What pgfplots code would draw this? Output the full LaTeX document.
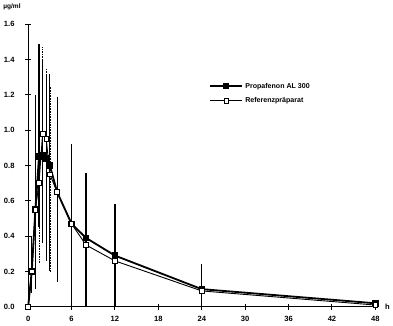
\documentclass[border=0pt]{standalone}
\usepackage{pgfplots}
\pgfplotsset{compat=1.18}
\usepackage{fontspec}
\setmainfont{Liberation Sans}
\begin{document}
\begin{tikzpicture}
\begin{axis}[
  scale only axis, width=344pt, height=280pt,
  xmin=0, xmax=48, ymin=0, ymax=1.6,
  axis lines=left, axis line style={line width=1.2pt,-},
  xtick={0,6,...,48}, ytick={0,0.2,...,1.6},
  yticklabels={0.0,0.2,0.4,0.6,0.8,1.0,1.2,1.4,1.6},
  tick align=center, major tick length=6pt,
  tick style={line width=1pt,black},
  tick label style={font=\bfseries\fontsize{7.5}{8}\selectfont},
  /pgf/number format/assume math mode=true,
  yticklabel style={xshift=-7pt},
  xticklabel style={yshift=-3pt},
  clip=false,
  legend style={at={(axis cs:25,1.28)}, anchor=north west, draw=none, fill=none,
    font=\bfseries\fontsize{7}{8}\selectfont, row sep=4pt, inner sep=0pt},
  legend cell align=left,
  legend image code/.code={
    \draw[mark repeat=2,mark phase=2,#1] plot coordinates {(0pt,0pt) (16pt,0pt) (32pt,0pt)};},
]
\addplot[black, line width=1.8pt, mark=square*, mark size=2.3pt,
  error bars/.cd, y dir=both, y explicit, error bar style={line width=1.1pt}, error mark=none]
 coordinates {
 (0,0) +- (0,0)
 (0.5,0.20) += (0,0.20) -= (0,0.12)
 (1,0.55) += (0,0.65) -= (0,0.45)
 (1.5,0.85) += (0,0.64) -= (0,0.40)
 (2,0.86) += (0,0.54) -= (0,0.50)
 (2.5,0.84) += (0,0.47) -= (0,0.58)
 (3,0.80) += (0,0.52) -= (0,0.60)
 (4,0.65) += (0,0.54) -= (0,0.51)
 (6,0.47) += (0,0.45) -= (0,0.47)
 (8,0.39) += (0,0.37) -= (0,0.39)
 (12,0.29) += (0,0.29) -= (0,0.29)
 (24,0.10) += (0,0.14) -= (0,0.10)
 (48,0.02) +- (0,0.01)
 };
\addlegendentry{Propafenon AL 300}
\addplot[black, line width=0.9pt, mark=square*, mark size=2.3pt, mark options={fill=white, line width=0.8pt},
  error bars/.cd, y dir=both, y explicit, error bar style={line width=0.6pt, densely dotted}, error mark=none]
 coordinates {
 (0,0) +- (0,0)
 (0.5,0.20) += (0,0.15) -= (0,0.10)
 (1,0.55) += (0,0.58) -= (0,0.40)
 (1.5,0.70) += (0,0.50) -= (0,0.45)
 (2,0.98) += (0,0.49) -= (0,0.55)
 (2.5,0.95) += (0,0.40) -= (0,0.69)
 (3,0.75) += (0,0.50) -= (0,0.55)
 (4,0.65) += (0,0.40) -= (0,0.45)
 (6,0.47) += (0,0.42) -= (0,0.47)
 (8,0.35) += (0,0.38) -= (0,0.35)
 (12,0.26) += (0,0.30) -= (0,0.26)
 (24,0.09) += (0,0.14) -= (0,0.09)
 (48,0.01) +- (0,0.0)
 };
\addlegendentry{Referenzpräparat}
\node[anchor=south, font=\bfseries\fontsize{6.5}{7}\selectfont] at ([xshift=-16pt,yshift=11pt]rel axis cs:0,1) {µg/ml};
\node[anchor=west, font=\bfseries\fontsize{7.5}{8}\selectfont] at ([xshift=6pt]rel axis cs:1,0) {h};
\end{axis}
\end{tikzpicture}
\end{document}
